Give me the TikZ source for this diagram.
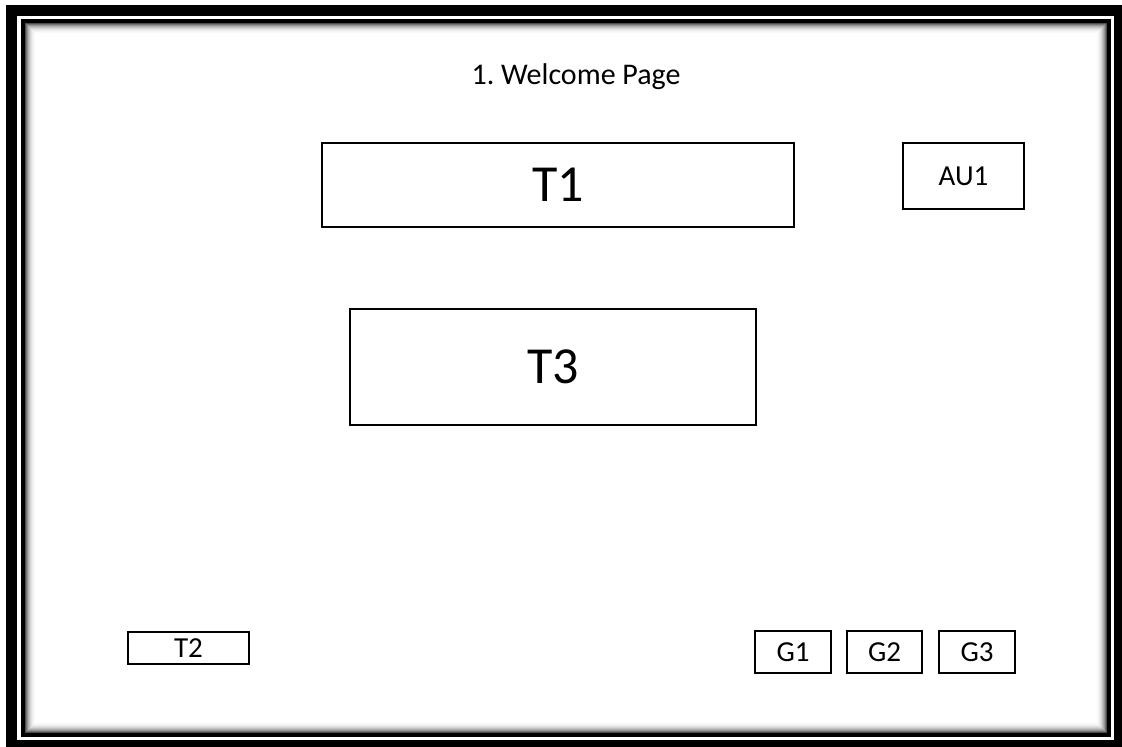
\documentclass[tikz,border=0pt]{standalone}
\usepackage{fontspec}
\setmainfont{Carlito}
\frenchspacing
\begin{document}
\begin{tikzpicture}[x=1pt,y=-1pt,
  box/.style={draw=black,line width=1.8pt,rectangle,inner sep=0pt,fill=white},
  small/.style={font=\fontsize{29}{34}\selectfont},
  big/.style={font=\fontsize{52}{60}\selectfont}]
\useasboundingbox (0,0) rectangle (1122,747);
% frame
\fill[white] (0,0) rectangle (1122,747);
\fill[black] (6,5) rectangle (1122,747);
\fill[white] (17,16) rectangle (1114,740);
\fill[black] (21,19) rectangle (1111,737);
\foreach \i/\p in {0/70,1/55,2/42,3/32,4/24,5/17,6/11,7/7,8/4,9/2,10/0}{
  \fill[black!\p] (25+\i,23+\i) rectangle (1107-\i,733-\i);
}
% title
\node[font=\fontsize{30}{36}\selectfont] (title) at (576,77) {1. Welcome Page};
% boxes
\node[box,big,minimum width=472pt,minimum height=84pt] (T1) at (558,185) {T1};
\node[box,big,minimum width=406pt,minimum height=116pt] (T3) at (553,367) {T3};
\node[box,small,minimum width=121pt,minimum height=66pt] (AU1) at (963.5,176) {AU1};
\node[box,small,minimum width=121pt,minimum height=32pt] (T2) at (188.5,648) {T2};
\node[box,small,minimum width=76pt,minimum height=42pt] (G1) at (793,652) {G1};
\node[box,small,minimum width=75pt,minimum height=42pt] (G2) at (884.5,652) {G2};
\node[box,small,minimum width=76pt,minimum height=42pt] (G3) at (977,652) {G3};
\end{tikzpicture}
\end{document}
